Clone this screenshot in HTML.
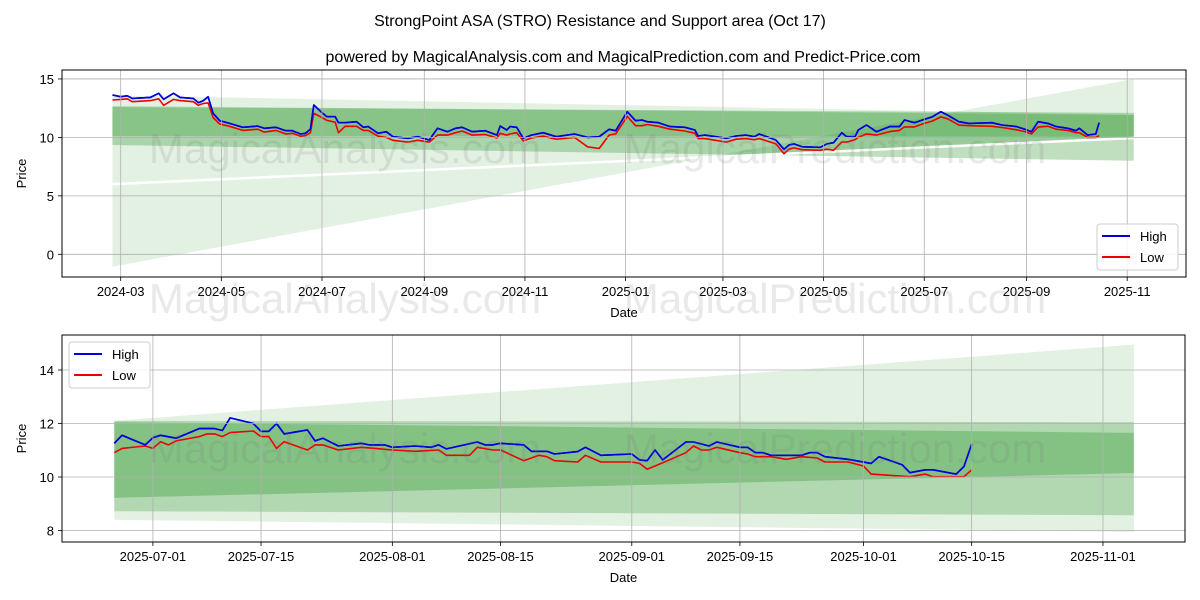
<!DOCTYPE html>
<html><head><meta charset="utf-8"><style>
html,body{margin:0;padding:0;background:#fff}
svg{display:block;font-family:"Liberation Sans","DejaVu Sans",sans-serif}
</style></head><body>
<svg id="chart" width="1200" height="600" viewBox="0 0 1200 600">
<text x="600" y="26" text-anchor="middle" font-size="16" fill="#000">StrongPoint ASA (STRO) Resistance and Support area (Oct 17)</text>
<text x="623" y="62" text-anchor="middle" font-size="16" fill="#000">powered by MagicalAnalysis.com and MagicalPrediction.com and Predict-Price.com</text>
<g id="top"></g>
<g id="bot"></g>
</svg>
<script>
// ---------- TOP PANEL DATA ----------
const topStart = '2024-03-01';
const topDay = [-5,0,4,7,18,23,26,32,36,44,47,50,53,56,60,66,74,83,87,94,100,104,109,112,115,117,122,125,130,132,136,143,147,150,156,161,165,174,180,187,192,198,203,207,213,221,228,230,234,236,240,244,249,256,264,275,283,290,296,300,307,312,316,319,326,333,342,348,350,354,367,373,379,384,387,397,402,405,408,413,424,428,432,437,440,445,447,452,458,466,472,475,481,487,492,497,501,508,514,528,534,543,548,552,556,562,567,574,579,581,586,591,593];
const topHigh = [13.63,13.48,13.56,13.34,13.42,13.77,13.26,13.77,13.42,13.34,12.97,13.14,13.48,12.06,11.43,11.2,10.86,10.97,10.78,10.86,10.57,10.57,10.29,10.35,10.69,12.77,12.11,11.77,11.77,11.26,11.26,11.34,10.86,10.92,10.35,10.49,10.06,9.92,10.06,9.78,10.78,10.49,10.78,10.86,10.49,10.57,10.2,10.97,10.63,10.92,10.86,9.92,10.2,10.4,10.06,10.29,10.0,10.06,10.69,10.57,12.2,11.43,11.49,11.34,11.26,10.92,10.86,10.63,10.12,10.2,9.92,10.12,10.2,10.06,10.29,9.78,8.98,9.35,9.44,9.2,9.15,9.44,9.55,10.4,10.06,10.06,10.63,11.06,10.49,10.92,10.92,11.49,11.26,11.54,11.77,12.2,11.92,11.34,11.2,11.26,11.06,10.92,10.69,10.49,11.34,11.2,10.92,10.78,10.57,10.78,10.2,10.29,11.26];
const topLow = [13.2,13.25,13.3,13.05,13.15,13.3,12.75,13.25,13.15,13.05,12.75,12.9,12.95,11.7,11.15,10.95,10.6,10.7,10.45,10.6,10.3,10.35,10.1,10.15,10.4,12.05,11.7,11.45,11.3,10.4,10.95,10.95,10.6,10.6,10.1,10.0,9.75,9.6,9.75,9.6,10.2,10.2,10.4,10.55,10.2,10.25,9.95,10.35,10.2,10.3,10.4,9.7,9.95,10.1,9.85,10.0,9.2,9.05,10.2,10.3,11.8,11.0,11.0,11.1,10.95,10.7,10.55,10.35,9.9,9.9,9.6,9.85,9.9,9.8,9.9,9.45,8.6,9.0,9.1,8.95,8.9,9.0,8.9,9.6,9.6,9.8,10.0,10.3,10.2,10.5,10.6,10.9,10.9,11.2,11.4,11.75,11.6,11.05,11.0,10.95,10.85,10.65,10.5,10.3,10.9,10.95,10.7,10.6,10.4,10.4,10.0,10.0,10.15];
const topXTicks = ['2024-03','2024-05','2024-07','2024-09','2024-11','2025-01','2025-03','2025-05','2025-07','2025-09','2025-11'];
const topYTicks = [0,5,10,15];
// bands: [x-day start, x-day end, upper start, upper end, lower start, lower end]
const topBandStart = -5, topBandEnd = 614;
const topWedgeUpper = [13.6, 11.93, 6.1, 10.0];
const topWedgeLower = [5.9, 9.9, -1.06, 15.0];
const topBandMid = [12.6, 12.1, 9.35, 8.0];
const topBandDark = [12.69, 11.92, 10.12, 10.06];

// ---------- BOTTOM PANEL DATA ----------
const botStart = '2025-07-01';
const botHighDay = [-5,-4,-1,0,1,3,6,8,9,10,13,14,15,16,17,20,21,22,24,27,28,30,31,34,36,37,38,42,43,44,45,48,49,51,52,55,56,58,62,63,64,65,66,69,70,72,73,76,77,78,79,80,84,85,86,87,90,93,94,97,98,100,101,104,105,106];
const botHigh = [11.26,11.56,11.2,11.47,11.56,11.45,11.81,11.81,11.74,12.21,12.0,11.71,11.71,12.0,11.61,11.76,11.35,11.45,11.16,11.26,11.2,11.2,11.11,11.16,11.11,11.2,11.05,11.31,11.2,11.2,11.26,11.2,10.96,10.96,10.86,10.95,11.11,10.81,10.86,10.64,10.61,11.01,10.64,11.31,11.31,11.16,11.31,11.11,11.11,10.91,10.91,10.81,10.81,10.91,10.91,10.76,10.66,10.51,10.76,10.46,10.16,10.27,10.27,10.11,10.39,11.22];
const botLowDay = [-5,-4,-1,0,1,2,3,6,7,8,9,10,13,14,15,16,17,20,21,22,24,27,29,31,34,37,38,41,42,44,45,48,50,51,52,55,56,58,62,63,64,66,69,70,71,72,73,76,77,78,80,82,84,86,87,90,92,93,98,100,101,105,106];
const botLow = [10.91,11.07,11.16,11.07,11.32,11.2,11.35,11.51,11.61,11.61,11.51,11.66,11.72,11.51,11.51,11.07,11.32,11.01,11.2,11.2,11.01,11.11,11.06,11.01,10.96,11.01,10.81,10.81,11.11,11.01,11.01,10.61,10.81,10.76,10.61,10.56,10.81,10.56,10.56,10.51,10.29,10.53,10.91,11.16,11.01,11.01,11.11,10.91,10.86,10.76,10.76,10.66,10.76,10.71,10.56,10.56,10.41,10.11,10.01,10.11,10.01,10.01,10.26];
const botXTicks = ['2025-07-01','2025-07-15','2025-08-01','2025-08-15','2025-09-01','2025-09-15','2025-10-01','2025-10-15','2025-11-01'];
const botYTicks = [8,10,12,14];
const botBandStart = -5, botBandEnd = 127;
const botWedge = [12.1, 14.95, 8.4, 7.95];
const botBandMid = [12.1, 12.05, 8.72, 8.57];
const botBandDark = [12.05, 11.65, 9.22, 10.15];

const NS = 'http://www.w3.org/2000/svg';
function mk(tag, attrs, parent){
  const e = document.createElementNS(NS, tag);
  for (const k in attrs) e.setAttribute(k, attrs[k]);
  parent.appendChild(e);
  return e;
}
function dayDiff(a, b){ return (Date.parse(a) - Date.parse(b)) / 864e5; }

function drawPanel(g, cfg){
  const {L,R,T,B,x0,pxDay,yv0,y0,pxUnit,start} = cfg;
  const X = d => x0 + d * pxDay;
  const Y = v => y0 - (v - yv0) * pxUnit;
  const clip = mk('clipPath', {id: cfg.id + '-clip'}, g);
  mk('rect', {x:L, y:T, width:R-L, height:B-T}, clip);
  const inner = mk('g', {'clip-path': 'url(#' + cfg.id + '-clip)'}, g);
  
  
  function band(arr, fill, name){
    const [u0,u1,l0,l1] = arr;
    const xa = X(cfg.bandStart), xb = X(cfg.bandEnd);
    const p = mk('polygon', {points: `${xa},${Y(u0)} ${xb},${Y(u1)} ${xb},${Y(l1)} ${xa},${Y(l0)}`, fill: fill}, inner);
    
    
  }
  cfg.bands.forEach(b => band(b[0], b[1], b[2]));
  if (cfg.whiteLine){
    const [a,b] = cfg.whiteLine;
    const wl = mk('line', {x1:X(cfg.bandStart), y1:Y(a), x2:X(cfg.bandEnd), y2:Y(b), stroke:'#fff', 'stroke-width':2.5}, inner);
    
    
  }
  // grid
  cfg.xTicks.forEach(t => {
    const xx = X(dayDiff(t.length === 7 ? t + '-01' : t, start));
    const gl = mk('line', {x1:xx, y1:T, x2:xx, y2:B, stroke:'#b0b0b0', 'stroke-width':0.8}, g);
    
    
    mk('line', {x1:xx, y1:B, x2:xx, y2:B+4, stroke:'#000', 'stroke-width':0.8}, g);
    const tx = mk('text', {x:xx, y:B+19, 'text-anchor':'middle', 'font-size':13, fill:'#000'}, g);
    tx.textContent = t;
    
    
  });
  cfg.yTicks.forEach(v => {
    const yy = Y(v);
    const gl = mk('line', {x1:L, y1:yy, x2:R, y2:yy, stroke:'#b0b0b0', 'stroke-width':0.8}, g);
    
    
    mk('line', {x1:L-4, y1:yy, x2:L, y2:yy, stroke:'#000', 'stroke-width':0.8}, g);
    const tx = mk('text', {x:L-8, y:yy+5, 'text-anchor':'end', 'font-size':13, fill:'#000'}, g);
    tx.textContent = v;
    
    
  });
  // watermarks
  cfg.marks.forEach(m => {
    const w = mk('text', {x:m[0], y:m[1], 'text-anchor':'middle', 'font-size':42, fill:'rgba(120,120,120,0.16)'}, g);
    w.textContent = m[2];
    
    
  });
  // series
  function series(days, vals, color, name){
    const pts = days.map((d,i) => X(d).toFixed(1) + ',' + Y(vals[i]).toFixed(1)).join(' ');
    const pl = mk('polyline', {points: pts, fill:'none', stroke: color, 'stroke-width':1.6, 'stroke-linejoin':'round'}, inner);
    
    
  }
  series(cfg.hiDay, cfg.hi, '#0000dd', 'high-line');
  series(cfg.loDay, cfg.lo, '#ee0000', 'low-line');
  series(cfg.hiDay, cfg.hi, '#0000dd', 'high-line-overlay');
  const fr = mk('rect', {x:L, y:T, width:R-L, height:B-T, fill:'none', stroke:'#000', 'stroke-width':1}, g);
  
  
  // axis labels
  const xl = mk('text', {x:(L+R)/2, y:B+40, 'text-anchor':'middle', 'font-size':13}, g);
  xl.textContent = 'Date';
  
  
  const yl = mk('text', {x:0, y:0, 'text-anchor':'middle', 'font-size':13, transform:`translate(26,${(T+B)/2}) rotate(-90)`}, g);
  yl.textContent = 'Price';
  
  
  // legend
  const [lx, ly] = cfg.legend;
  const lg = mk('g', {}, g);
  
  
  mk('rect', {x:lx, y:ly, width:81, height:46, rx:3, fill:'rgba(255,255,255,0.85)', stroke:'#ccc'}, lg);
  [['High','#0000dd'],['Low','#ee0000']].forEach((e,i) => {
    const row = mk('g', {}, lg);
    
    
    mk('line', {x1:lx+5, y1:ly+12+i*21, x2:lx+33, y2:ly+12+i*21, stroke:e[1], 'stroke-width':2}, row);
    const t = mk('text', {x:lx+43, y:ly+17+i*21, 'font-size':13}, row);
    t.textContent = e[0];
  });
}

drawPanel(document.getElementById('top'), {
  id:'top', L:62, R:1186, T:70, B:277, x0:120.7, pxDay:1.650, yv0:0, y0:254.3, pxUnit:11.69,
  start: topStart, bandStart: topBandStart, bandEnd: topBandEnd,
  bands: [[topWedgeUpper,'rgba(0,128,0,0.11)','wedge-upper'],[topWedgeLower,'rgba(0,128,0,0.11)','wedge-lower'],[topBandMid,'rgba(0,128,0,0.25)','band-mid'],[topBandDark,'rgba(0,128,0,0.2)','band-dark']],
  whiteLine: [6.0, 9.95],
  xTicks: topXTicks, yTicks: topYTicks,
  hiDay: topDay, hi: topHigh, loDay: topDay, lo: topLow,
  legend:[1097,224],
  marks:[[345,163,'MagicalAnalysis.com'],[835,163,'MagicalPrediction.com'],[345,313,'MagicalAnalysis.com'],[835,313,'MagicalPrediction.com']]
});
drawPanel(document.getElementById('bot'), {
  id:'bot', L:62, R:1185, T:335, B:542, x0:152.9, pxDay:7.724, yv0:10, y0:477, pxUnit:26.75,
  start: botStart, bandStart: botBandStart, bandEnd: botBandEnd,
  bands: [[botWedge,'rgba(0,128,0,0.11)','wedge'],[botBandMid,'rgba(0,128,0,0.22)','band-mid'],[botBandDark,'rgba(0,128,0,0.25)','band-dark']],
  whiteLine: null,
  xTicks: botXTicks, yTicks: botYTicks,
  hiDay: botHighDay, hi: botHigh, loDay: botLowDay, lo: botLow,
  legend:[69,342],
  marks:[[345,463,'MagicalAnalysis.com'],[835,463,'MagicalPrediction.com']]
});
</script>
</body></html>
